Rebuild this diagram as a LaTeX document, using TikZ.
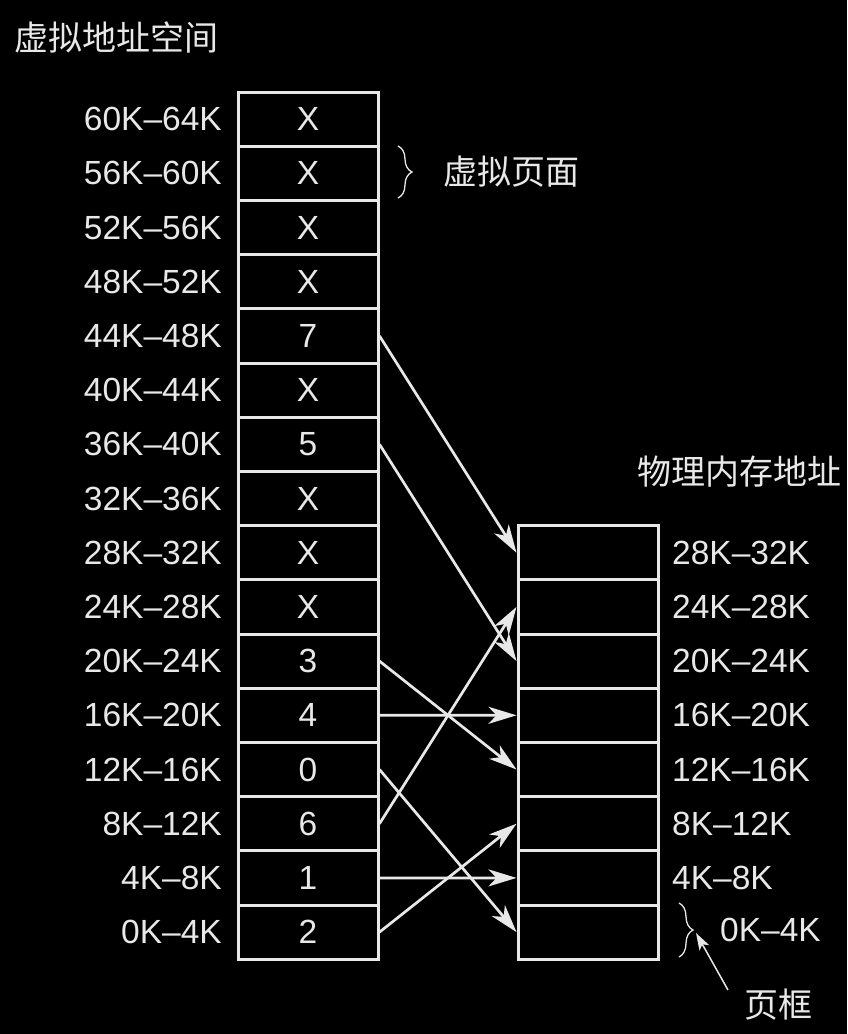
\documentclass[tikz,border=0pt]{standalone}
\usepackage{fontspec}
\setmainfont{Liberation Sans}
\newfontfamily\cjk{Noto Sans CJK SC}
\usetikzlibrary{arrows.meta,decorations.pathreplacing}
\definecolor{fg}{RGB}{232,232,232}
\begin{document}
\begin{tikzpicture}[x=1pt,y=1pt,
  cell/.style={draw=fg, line width=3pt, minimum width=140pt, minimum height=54.2pt, inner sep=0pt, text=fg, font=\fontsize{33.5}{36}\selectfont},
  lab/.style={text=fg, inner sep=0pt, font=\fontsize{33.5}{36}\selectfont},
  cjklab/.style={text=fg, inner sep=0pt, font=\cjk\fontsize{34}{38}\selectfont},
  map/.style={draw=fg, line width=2.7pt, -{Stealth[length=28pt,width=17pt,inset=8pt]}},
  bracestyle/.style={draw=fg, line width=1.3pt, decorate, decoration={brace, amplitude=14pt}},
  pointer/.style={draw=fg, line width=1.5pt, -{Stealth[length=17pt,width=11pt,inset=4pt]}},
]
\fill[black] (0,0) rectangle (847,-1034);
\useasboundingbox (0,0) rectangle (847,-1034);

% virtual pages (named by address index)
\foreach \c [count=\i from 0] in {X,X,X,X,7,X,5,X,X,X,3,4,0,6,1,2} {
  \pgfmathtruncatemacro\p{15-\i}
  \pgfmathtruncatemacro\lo{4*\p}
  \pgfmathtruncatemacro\hi{4*\p+4}
  \node[cell] (v\p) at (308,{-92-54.2*(\i+0.5)}) {\c};
  \node[lab, anchor=east] (vl\p) at (222,{-92-54.2*(\i+0.5)}) {\lo K–\hi K};
}

% page frames
\foreach \j in {0,...,7} {
  \node[cell] (f\j) at (588,{-959.2+54.2*(\j+0.5)}) {};
}
\foreach \j in {1,...,7} {
  \pgfmathtruncatemacro\lo{4*\j}
  \pgfmathtruncatemacro\hi{4*\j+4}
  \node[lab, anchor=west] (fl\j) at (672,{-959.2+54.2*(\j+0.5)}) {\lo K–\hi K};
}
\node[lab, anchor=west] (fl0) at (720,-930) {0K–4K};

% mappings: virtual page -> page frame
\foreach \p/\f in {11/7,9/5,5/3,4/4,3/0,2/6,1/1,0/2} {
  \draw[map] (v\p.east) -- (f\f.west);
}

% titles
\node[cjklab, anchor=west] (vtitle) at (14,-37) {虚拟地址空间};
\node[cjklab, anchor=west] (ptitle) at (637,-472) {物理内存地址};
\node[cjklab, anchor=west] (vpage) at (443,-172) {虚拟页面};
\node[cjklab] (pframe) at (778,-1005) {页框};

% braces
\draw[bracestyle] (398,-146) -- (398,-198);
\draw[bracestyle] (679,-903) -- (679,-957);
\coordinate (btip) at (696,-933);
\coordinate (pstart) at (728,-990);
\draw[pointer] (pstart) -- (btip);
\end{tikzpicture}
\end{document}
